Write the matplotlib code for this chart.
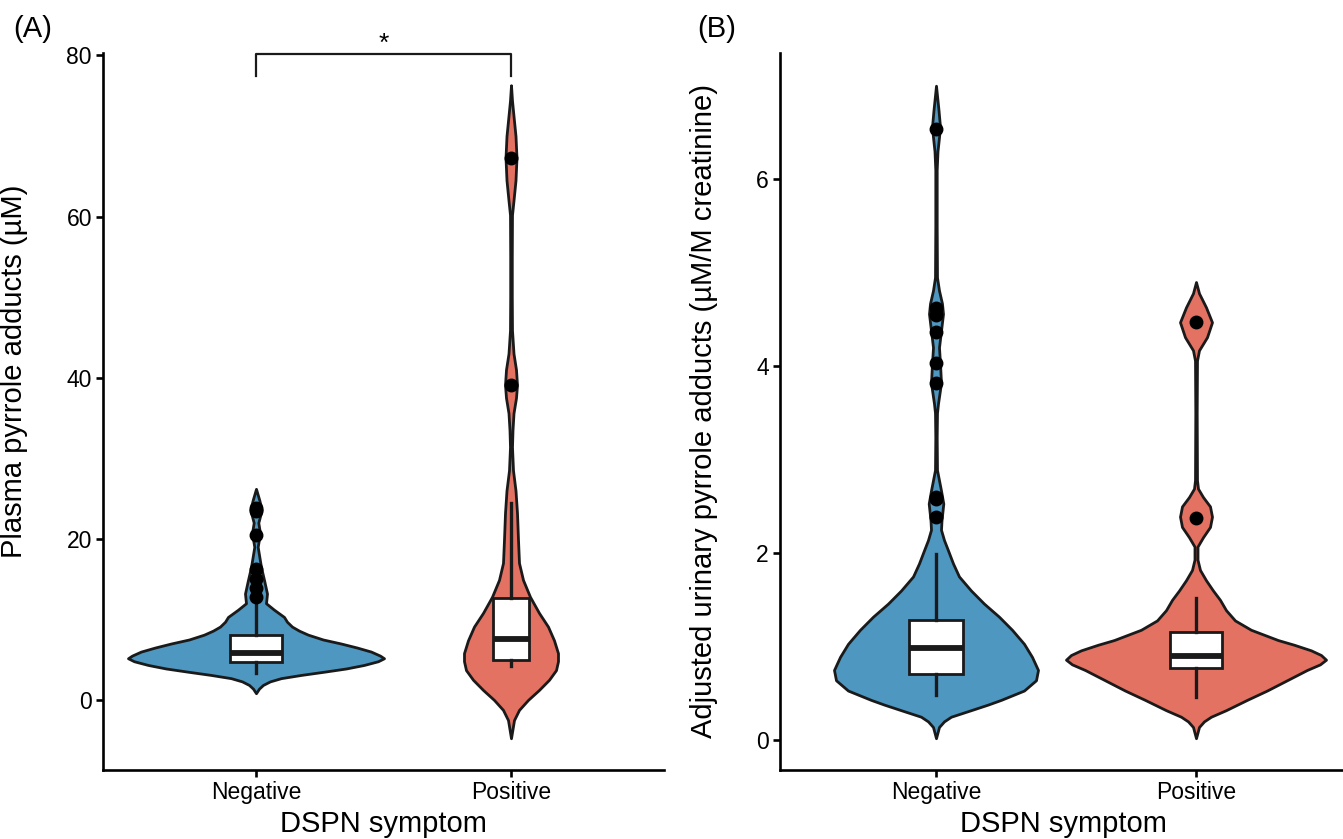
import numpy as np
import matplotlib
matplotlib.use("Agg")
import matplotlib.pyplot as plt

## categories and colours
groups = ["Negative", "Positive"]
fill_cols = ["#4D97C1", "#E37263"]

## violin outlines: value -> half width (x units)
## panel A, negative
a_neg_y = [0.83, 1.4, 1.86, 2.3, 2.7, 3.1, 3.5, 3.9, 4.34, 4.8, 5.17, 5.5, 6.0, 6.5, 7.0,
           7.5, 8.1, 8.6, 9.1, 9.7, 10.3, 11.2, 12.0, 13.2, 14.9, 16.5, 19.0, 20.7,
           22.0, 23.6, 24.8, 26.2]
a_neg_w = [0, 3, 7, 14, 25, 45, 68, 90, 108, 122, 128, 124, 115, 101, 85,
           67, 52, 43, 36, 31, 28, 18, 10, 11, 8, 5, 1.7, 4,
           2.3, 5.7, 3.3, 0]
## panel A, positive
a_pos_y = [-4.76, -2.5, -1.24, 0, 1.24, 2.5, 3.7, 4.8, 5.8, 7.4, 9.1, 10.8, 12.8, 14.9,
           17.0, 19.9, 23.2, 26.0, 28.5, 31.4, 33.5, 35.6, 37.5, 39.1, 41.0, 43.0,
           45.9, 50.0, 55.0, 60.2, 62.0, 64.5, 67.3, 70.0, 72.5, 74.4, 76.3]
a_pos_w = [0, 3, 8, 17, 28, 38, 45, 47, 47, 43, 37, 28, 19, 12,
           8, 7, 6, 4.5, 2, 1, 1.5, 2.5, 5, 6, 5, 2.5,
           1, 0.8, 0.8, 1, 2.5, 4.5, 5.5, 4.5, 2.5, 1, 0]
## panel B, negative
b_neg_y = [0.02, 0.14, 0.2, 0.25, 0.32, 0.38, 0.43, 0.53, 0.64, 0.75, 0.89, 1.03, 1.18,
           1.32, 1.46, 1.60, 1.75, 1.89, 2.03, 2.14, 2.25, 2.35, 2.53, 2.67, 2.78, 2.89,
           3.24, 3.5, 3.6, 3.82, 4.03, 4.2, 4.38, 4.56, 4.67, 4.81, 4.95, 5.5, 6.1, 6.3,
           6.45, 6.56, 6.74, 7.0]
b_neg_w = [0, 3, 8, 15, 35, 52, 65, 88, 100, 102, 96, 88, 76,
           63, 48, 35, 23, 17, 12, 8, 5, 5.5, 7.3, 5, 3, 1,
           0.7, 1, 2, 5, 4, 3, 5, 7, 6, 3, 1, 0.7, 0.7, 1.5,
           3, 4, 2.5, 0]
## panel B, positive
b_pos_y = [0.02, 0.14, 0.2, 0.25, 0.32, 0.43, 0.53, 0.64, 0.75, 0.81, 0.86, 0.91, 0.96,
           1.02, 1.07, 1.18, 1.28, 1.39, 1.5, 1.6, 1.71, 1.82, 1.93, 2.07, 2.17, 2.28,
           2.39, 2.50, 2.60, 2.69, 2.78, 3.5, 4.06, 4.17, 4.31, 4.47, 4.63, 4.78, 4.90]
b_pos_w = [0, 3, 8, 15, 30, 51, 71, 91, 111, 124, 130, 125, 115,
           98, 82, 55, 39, 30, 24, 17, 10, 4, 1.5, 1.5, 7, 14,
           16, 14, 7, 2, 1, 0.7, 1, 3, 11, 16, 10, 3, 0]

## box statistics (q1, median, q3, whisker low, whisker high) and outliers
a_box = [(4.75, 5.87, 8.06, 3.4, 12.6), (4.96, 7.53, 12.6, 4.2, 24.4)]
a_out = [[12.8, 13.9, 15.0, 16.2, 20.5, 23.4, 23.8], [39.1, 67.3]]
b_box = [(0.71, 0.98, 1.28, 0.48, 1.99), (0.77, 0.90, 1.16, 0.46, 1.52)]
b_out = [[2.39, 2.58, 2.60, 3.82, 4.03, 4.37, 4.55, 4.62, 6.54], [2.38, 4.47]]
a_box_w = [0.204, 0.145]
b_box_w = [0.204, 0.2]

plt.rcParams['font.family'] = ['Liberation Sans', 'DejaVu Sans']

fig = plt.figure(figsize=(13.43, 8.39), dpi=100)
W, H = 1343, 839
axA = fig.add_axes([103 / W, 69 / H, 561 / W, 717 / H])
axB = fig.add_axes([780 / W, 69 / H, 563 / W, 717 / H])

edge = "#1a1a1a"


def draw_panel(ax, prof_y, prof_w, px_per_unit, boxes, outs, box_w):
    for i in range(2):
        y = np.array(prof_y[i])
        w = np.array(prof_w[i]) / px_per_unit
        ax.fill_betweenx(y, i + 1 - w, i + 1 + w, facecolor=fill_cols[i],
                         edgecolor=edge, linewidth=2.0, zorder=2)
    stats = []
    for (q1, med, q3, lo, hi), fl in zip(boxes, outs):
        stats.append({'q1': q1, 'med': med, 'q3': q3, 'whislo': lo,
                      'whishi': hi, 'fliers': fl})
    ax.bxp(stats, positions=[1, 2], widths=box_w, patch_artist=True,
           showcaps=False, manage_ticks=False,
           boxprops=dict(facecolor='white', edgecolor=edge, linewidth=2.0),
           medianprops=dict(color=edge, linewidth=4.2, solid_capstyle='butt'),
           whiskerprops=dict(color=edge, linewidth=2.4),
           flierprops=dict(marker='o', markerfacecolor='black',
                           markeredgecolor='black', markersize=9),
           zorder=3)
    ax.set_xlim(0.4, 2.6)
    ax.set_xticks([1, 2])
    ax.set_xticklabels(groups)
    for s in ['top', 'right']:
        ax.spines[s].set_visible(False)
    for s in ['left', 'bottom']:
        ax.spines[s].set_linewidth(1.9)
        ax.spines[s].set_color('black')
    ax.tick_params(axis='both', length=5, width=1.9, labelsize=16.5, pad=3)


draw_panel(axA, [a_neg_y, a_pos_y], [a_neg_w, a_pos_w], 255, a_box, a_out, a_box_w)
axA.set_ylim(-8.7, 80.3)
axA.set_yticks([0, 20, 40, 60, 80])
axA.set_ylabel("Plasma pyrrole adducts (µM)", fontsize=21)
axA.yaxis.set_label_coords(-0.134, 0.556)

## significance bracket
axA.plot([1, 1, 2, 2], [77.5, 80.2, 80.2, 77.5], color=edge, linewidth=1.6,
         clip_on=False, zorder=4)
axA.text(1.5, 80.0, "*", ha='center', va='bottom', fontsize=19)

draw_panel(axB, [b_neg_y, b_pos_y], [b_neg_w, b_pos_w], 260, b_box, b_out, b_box_w)
axB.set_xlim(0.4, 0.4 + 563 / 260)
axB.set_ylim(-0.32, 7.35)
axB.set_yticks([0, 2, 4, 6])
axB.set_ylabel("Adjusted urinary pyrrole adducts (µM/M creatinine)", fontsize=21)
axB.yaxis.set_label_coords(-0.110, 0.5)

fig.text(383 / W, 1 - 824 / H, "DSPN symptom", ha='center', va='center', fontsize=21)
fig.text(1063 / W, 1 - 824 / H, "DSPN symptom", ha='center', va='center', fontsize=21)
fig.text(13 / W, 1 - 29 / H, "(A)", ha='left', va='center', fontsize=21)
fig.text(697 / W, 1 - 29 / H, "(B)", ha='left', va='center', fontsize=21)

fig.savefig("out.png", dpi=100)
